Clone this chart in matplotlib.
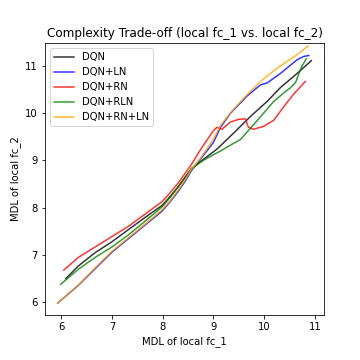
import matplotlib
matplotlib.use("Agg")
import matplotlib.pyplot as plt

# values
dqn_x = [6.09, 6.34, 6.67, 7.0, 7.33, 7.66, 7.99, 8.15, 8.31, 8.45, 8.57, 8.8, 9.07, 9.4, 9.73, 10.06, 10.32,
         10.65, 10.93]
dqn_y = [6.50, 6.77, 7.05, 7.28, 7.54, 7.80, 8.05, 8.24, 8.45, 8.66, 8.83, 9.02, 9.24, 9.58, 9.93, 10.25, 10.54,
         10.84, 11.11]

ln_x = [5.93, 6.34, 6.67, 7.0, 7.33, 7.66, 7.99, 8.15, 8.31, 8.45, 8.57, 8.74, 9.0, 9.14, 9.33, 9.66, 9.93,
        10.06, 10.32, 10.65, 10.78, 10.88]
ln_y = [5.98, 6.36, 6.71, 7.06, 7.35, 7.64, 7.93, 8.13, 8.35, 8.57, 8.79, 9.02, 9.38, 9.70, 9.99, 10.36, 10.60,
        10.64, 10.84, 11.13, 11.20, 11.22]

rn_x = [6.05, 6.34, 6.67, 7.0, 7.33, 7.66, 7.99, 8.15, 8.31, 8.45, 8.57, 8.74, 9.0, 9.07, 9.12, 9.17, 9.33,
        9.50, 9.63, 9.69, 9.79, 9.99, 10.19, 10.39, 10.58, 10.81]
rn_y = [6.68, 6.95, 7.17, 7.39, 7.61, 7.87, 8.13, 8.32, 8.53, 8.74, 8.92, 9.22, 9.63, 9.70, 9.68, 9.66, 9.81,
        9.87, 9.88, 9.70, 9.66, 9.72, 9.85, 10.14, 10.40, 10.67]

rln_x = [5.99, 6.34, 6.67, 7.0, 7.33, 7.66, 7.99, 8.15, 8.31, 8.45, 8.57, 8.8, 9.0, 9.14, 9.33, 9.53, 9.73,
         9.99, 10.19, 10.39, 10.52, 10.62, 10.71, 10.76, 10.83]
rln_y = [6.38, 6.70, 6.95, 7.17, 7.43, 7.72, 8.02, 8.22, 8.45, 8.64, 8.83, 9.0, 9.12, 9.2, 9.32, 9.44, 9.68,
         10.0, 10.25, 10.43, 10.54, 10.65, 10.91, 11.02, 11.15]

rnln_x = [5.93, 6.34, 6.67, 7.0, 7.33, 7.66, 7.99, 8.15, 8.31, 8.45, 8.57, 8.74, 9.0, 9.14, 9.33, 9.60, 9.86,
          9.99, 10.32, 10.65, 10.87]
rnln_y = [5.98, 6.37, 6.73, 7.08, 7.37, 7.66, 7.96, 8.15, 8.38, 8.60, 8.82, 9.04, 9.45, 9.74, 10.0, 10.32, 10.60,
          10.73, 11.0, 11.24, 11.42]


def main():
    fig, ax = plt.subplots(figsize=(5, 5), dpi=72)
    fig.subplots_adjust(left=0.125, right=0.9, top=0.88, bottom=0.125)

    ax.plot(dqn_x, dqn_y, color="black", alpha=0.8, label="DQN")
    ax.plot(ln_x, ln_y, color="blue", alpha=0.8, label="DQN+LN")
    ax.plot(rn_x, rn_y, color="red", alpha=0.8, label="DQN+RN")
    ax.plot(rln_x, rln_y, color="green", alpha=0.8, label="DQN+RLN")
    ax.plot(rnln_x, rnln_y, color="orange", alpha=0.8, label="DQN+RN+LN")

    ax.set_xlim(5.68, 11.18)
    ax.set_ylim(5.73, 11.48)
    ax.set_title("Complexity Trade-off (local fc_1 vs. local fc_2)")
    ax.set_xlabel("MDL of local fc_1")
    ax.set_ylabel("MDL of local fc_2")
    ax.legend(loc="upper left")

    fig.savefig("out.png", dpi=72)


if __name__ == '__main__':
    main()
